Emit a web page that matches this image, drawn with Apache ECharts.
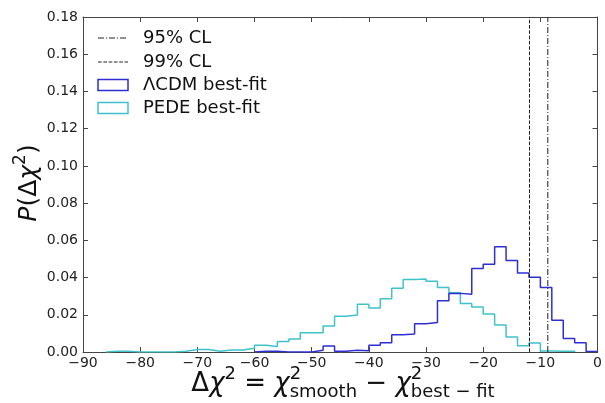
<!DOCTYPE html>
<html><head><meta charset="utf-8">
<script src="https://cdn.jsdelivr.net/npm/echarts@6/dist/echarts.min.js"></script>
<style>html,body{margin:0;padding:0;background:#fff}#c{width:605px;height:403px}</style>
</head><body><div id="c"></div>
<script>
// ---- data ----
const binLeft = [-90,-88,-86,-84,-82,-80,-78,-76,-74,-72,-70,-68,-66,-64,-62,-60,-58,-56,-54,-52,-50,-48,-46,-44,-42,-40,-38,-36,-34,-32,-30,-28,-26,-24,-22,-20,-18,-16,-14,-12,-10,-8,-6,-4,-2];
const binWidth = 2;
const lcdmVals = [0,0,0,0,0,0,0,0,0,0,0,0,0,0,0,0.0004,0.0004,0,0,0,0.0010,0.0032,0.0004,0.0010,0.0007,0.0036,0.0050,0.0093,0.0097,0.0152,0.0159,0.0276,0.0315,0.0310,0.0449,0.0471,0.0566,0.0492,0.0424,0.0401,0.0346,0.0170,0.0073,0.0050,0.0003];
const pedeVals = [0,0,0.0004,0.0004,0,0,0,0,0.0004,0.0014,0.0014,0.0004,0.0011,0.0011,0.0020,0.0036,0.0029,0.0057,0.0070,0.0104,0.0104,0.0140,0.0192,0.0199,0.0256,0.0236,0.0286,0.0342,0.0389,0.0392,0.0380,0.0346,0.0319,0.0261,0.0242,0.0204,0.0145,0.0081,0.0034,0.0048,0.0005,0.0004,0.0004,0,0];
const cl95 = -8.7;
const cl99 = -11.9;
const xTickMin = -90, xTickMax = 0, xTickStep = 10;
const yTickMin = 0, yTickMax = 0.18, yTickStep = 0.02;
const legendNames = ['95% CL', '99% CL', '\u039BCDM best-fit', 'PEDE best-fit'];

// ---- styles ----
const FONT = '"DejaVu Sans", "Liberation Sans", sans-serif';
const BLUE = '#2e2ed2';
const CYAN = '#40c2cc';
const AX = '#444';

function histLine(vals) {
  let i0 = vals.findIndex(v => v > 0);
  let i1 = vals.length - 1;
  while (i1 > 0 && !(vals[i1] > 0)) i1--;
  const pts = [[binLeft[i0], 0]];
  for (let k = i0; k <= i1; k++) {
    pts.push([binLeft[k], vals[k]]);
    pts.push([binLeft[k] + binWidth, vals[k]]);
  }
  pts.push([binLeft[i1] + binWidth, 0]);
  return pts;
}

const cv = document.createElement('canvas').getContext('2d');
function mw(t, s, it) { cv.font = (it ? 'italic ' : '') + s + 'px ' + FONT; return cv.measureText(t).width; }
const MID = 0.35;
function txt(t, x, base, s, it) {
  return { type: 'text', x: x, y: base - MID * s, silent: true,
    style: { text: t, fontSize: s, fontFamily: FONT, fontStyle: it ? 'italic' : 'normal', fill: '#111', align: 'left', verticalAlign: 'middle' } };
}
function mathLine(tokens, x0, base, supDy, subDy) {
  const els = []; let x = x0;
  tokens.forEach(tk => {
    if (tk.sup !== undefined || tk.sub !== undefined) {
      let w = 0;
      if (tk.sup) { els.push(txt(tk.sup, x, base - supDy, tk.s, false)); w = Math.max(w, mw(tk.sup, tk.s)); }
      if (tk.sub) { els.push(txt(tk.sub, x, base + subDy, tk.s, false)); w = Math.max(w, mw(tk.sub, tk.s)); }
      x += w;
    } else {
      els.push(txt(tk.t, x, base, tk.s, tk.it));
      x += mw(tk.t, tk.s, tk.it);
    }
  });
  return { els, width: x - x0 };
}
const M = 26, S = 18;
const xTokens = [
  {t:'\u0394', s:M}, {t:'\u03C7', s:M, it:true}, {sup:'2', s:S},
  {t:' = ', s:M}, {t:'\u03C7', s:M, it:true}, {sup:'2', sub:'smooth', s:S},
  {t:' \u2212 ', s:M}, {t:'\u03C7', s:M, it:true}, {sup:'2', sub:'best \u2212 fit', s:S}
];
const xm0 = mathLine(xTokens, 0, 0, 12, 6);
const xm = mathLine(xTokens, 343 - xm0.width / 2, 393, 12, 6);
const yM = 25, yS = 17;
const yTokens = [
  {t:'P', s:yM, it:true}, {t:'(\u0394', s:yM}, {t:'\u03C7', s:yM, it:true}, {sup:'2', s:yS}, {t:')', s:yM}
];
const ym0 = mathLine(yTokens, 0, 0, 11.6, 6);
const ym = mathLine(yTokens, -ym0.width / 2, 0, 11.6, 6);

// legend graphic
const lgX0 = 98, lgX1 = 128, lgTx = 143, lgRows = [38, 62, 85, 108];
const legendEls = [];
legendEls.push({ type:'line', silent:true, shape:{x1:lgX0, y1:lgRows[0], x2:lgX1, y2:lgRows[0]}, style:{stroke:'#222', lineWidth:1, lineDash:[6,2,1,2]} });
legendEls.push({ type:'line', silent:true, shape:{x1:lgX0, y1:lgRows[1], x2:lgX1, y2:lgRows[1]}, style:{stroke:'#222', lineWidth:1, lineDash:[3.7,1.6]} });
legendEls.push({ type:'rect', silent:true, shape:{x:lgX0, y:lgRows[2]-5.5, width:lgX1-lgX0, height:11}, style:{stroke:BLUE, fill:'none', lineWidth:1.5} });
legendEls.push({ type:'rect', silent:true, shape:{x:lgX0, y:lgRows[3]-5.5, width:lgX1-lgX0, height:11}, style:{stroke:CYAN, fill:'none', lineWidth:1.5} });
legendNames.forEach((n, i) => legendEls.push({ type:'text', x:lgTx, y:lgRows[i], silent:true,
  style:{ text:n, fontSize:18, fontFamily:FONT, fill:'#111', align:'left', verticalAlign:'middle' } }));

const fmtX = v => v < 0 ? '\u2212' + Math.abs(v) : String(v);
const axCommon = {
  axisLine: { onZero:false, lineStyle:{ color:AX, width:1 } },
  axisTick: { inside:true, length:5, lineStyle:{ color:AX } },
  splitLine: { show:false }
};

const chart = echarts.init(document.getElementById('c'));
chart.setOption({
  animation: false,
  backgroundColor: '#fff',
  grid: { left: 83, right: 4, top: 17, bottom: 51, containLabel: false },
  xAxis: [
    Object.assign({ type:'value', min:xTickMin, max:xTickMax, interval:xTickStep, position:'bottom',
      axisLabel:{ formatter: fmtX, fontSize:14, color:'#222', fontFamily:FONT, margin:4 } }, axCommon),
    Object.assign({ type:'value', min:xTickMin, max:xTickMax, interval:xTickStep, position:'top',
      axisLabel:{ show:false } }, axCommon)
  ],
  yAxis: [
    Object.assign({ type:'value', min:yTickMin, max:yTickMax, interval:yTickStep, position:'left',
      axisLabel:{ formatter: v => v.toFixed(2), fontSize:14, color:'#222', fontFamily:FONT, margin:5 } }, axCommon),
    Object.assign({ type:'value', min:yTickMin, max:yTickMax, interval:yTickStep, position:'right',
      axisLabel:{ show:false } }, axCommon)
  ],
  series: [
    { name:'PEDE best-fit', type:'line', data: histLine(pedeVals), symbol:'none', lineStyle:{ color:CYAN, width:1.5 }, z:3 },
    { name:'\u039BCDM best-fit', type:'line', data: histLine(lcdmVals), symbol:'none', lineStyle:{ color:BLUE, width:1.5 }, z:4 },
    { name:'99% CL', type:'line', data: [[cl99, yTickMin], [cl99, yTickMax]], symbol:'none', lineStyle:{ color:'#222', width:1, type:[3.7,1.6] }, z:5 },
    { name:'95% CL', type:'line', data: [[cl95, yTickMin], [cl95, yTickMax]], symbol:'none', lineStyle:{ color:'#222', width:1, type:[6,2,1,2] }, z:5 }
  ],
  graphic: [
    { type:'group', children: xm.els },
    { type:'group', x:38, y:183, rotation: Math.PI/2, children: ym.els },
    { type:'group', children: legendEls }
  ]
});
</script>
</body></html>
